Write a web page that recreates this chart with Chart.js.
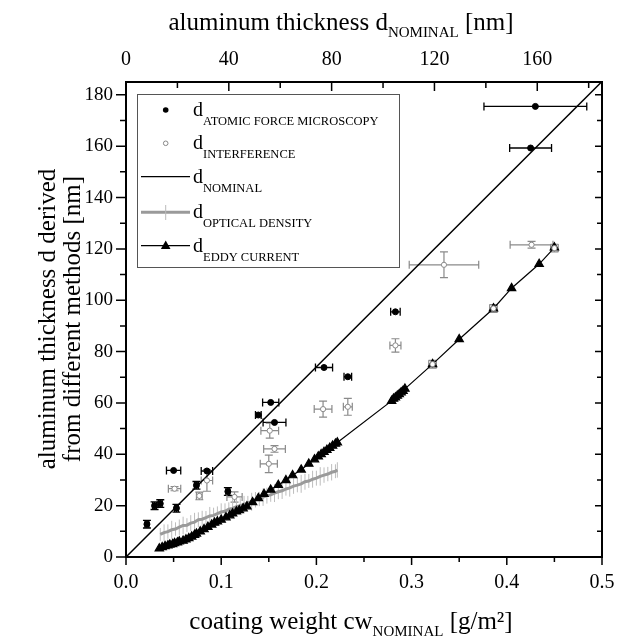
<!DOCTYPE html>
<html>
<head>
<meta charset="utf-8">
<script src="https://cdn.jsdelivr.net/npm/chart.js@4.4.1/dist/chart.umd.min.js"></script>
<style>
  html, body { margin: 0; padding: 0; background: #fff; }
  canvas { display: block; }
</style>
</head>
<body>
<canvas id="chart" width="617" height="642"></canvas>
<script>
// ── data ──────────────────────────────────────────────────────────────
var afmX    = [0.430, 0.425, 0.283, 0.208, 0.233, 0.152, 0.139, 0.156, 0.050, 0.085, 0.074, 0.107, 0.053, 0.030, 0.036, 0.022];
var afmY    = [175.5, 159.3, 95.5, 73.8, 70.2, 60.2, 55.3, 52.4, 33.7, 33.5, 27.9, 25.5, 19.0, 20.0, 20.8, 12.8];
var afmErrX = [0.054, 0.022, 0.005, 0.009, 0.004, 0.0085, 0.003, 0.012, 0.0075, 0.006, 0.002, 0.002, 0.002, 0.002, 0.002, 0.002];
var afmErrY = [0, 0, 0, 0, 0, 0, 0, 0, 0, 0, 1.5, 1.5, 1.5, 1.5, 1.5, 1.5];

var intX    = [0.334, 0.426, 0.283, 0.207, 0.233, 0.151, 0.156, 0.150, 0.051, 0.077, 0.085, 0.114, 0.322, 0.386, 0.450];
var intY    = [113.8, 121.6, 82.4, 57.6, 58.5, 49.2, 42.1, 36.3, 26.6, 23.8, 29.8, 23.4, 75.1, 96.8, 120.3];
var intErrX = [0.0365, 0.0225, 0.0058, 0.0093, 0.0047, 0.0093, 0.0114, 0.009, 0.0065, 0.003, 0.006, 0.008, 0.004, 0.004, 0.004];
var intErrY = [5.0, 1.3, 2.6, 3.1, 3.3, 2.9, 1.3, 3.4, 0.8, 1.5, 4.2, 2.0, 1.5, 1.5, 1.5];

var nominalX = [0, 0.5];
var nominalY = [0, 185.2];

var odX = [0.036, 0.040, 0.044, 0.048, 0.052, 0.056, 0.060, 0.064, 0.068, 0.072, 0.076, 0.080,
           0.084, 0.088, 0.092, 0.096, 0.100, 0.104, 0.108, 0.112, 0.116, 0.120, 0.124, 0.128,
           0.132, 0.136, 0.140, 0.144, 0.148, 0.152, 0.156, 0.160, 0.164, 0.168, 0.172, 0.176,
           0.180, 0.184, 0.188, 0.192, 0.196, 0.200, 0.204, 0.208, 0.212, 0.216, 0.220, 0.222];
var odY = [8.8, 9.5, 9.9, 10.6, 10.9, 11.6, 12.3, 12.4, 13.2, 13.6, 14.5, 14.7,
           15.3, 16.0, 16.2, 16.9, 17.5, 17.8, 18.6, 18.9, 19.6, 20.0, 20.5, 21.2,
           21.5, 22.3, 22.6, 23.3, 23.9, 24.2, 24.9, 25.4, 25.8, 26.5, 26.9, 27.6,
           28.0, 28.5, 29.3, 29.6, 30.3, 30.7, 31.4, 31.9, 32.3, 33.0, 33.4, 33.9];
var odErrY = [2.5, 3.2, 2.8, 3.5, 2.6, 3.0, 3.4, 2.7, 3.1, 3.6, 2.9, 3.3,
              2.6, 3.5, 3.0, 2.8, 3.4, 3.1, 2.7, 3.6, 3.0, 2.9, 3.3, 2.6,
              3.5, 3.0, 2.8, 3.4, 3.1, 2.7, 3.5, 2.9, 3.2, 2.6, 3.4, 3.0,
              2.8, 3.5, 3.1, 2.7, 3.3, 2.9, 3.6, 3.0, 2.8, 3.2, 2.7, 3.0];

var eddyX = [0.035, 0.038, 0.041, 0.044, 0.046, 0.049, 0.051, 0.054, 0.056, 0.060, 0.063, 0.066,
             0.069, 0.072, 0.074, 0.078, 0.082, 0.086, 0.090, 0.093, 0.096, 0.100, 0.105, 0.109,
             0.112, 0.116, 0.119, 0.123, 0.127, 0.133, 0.139, 0.145, 0.152, 0.160, 0.168, 0.175,
             0.184, 0.192, 0.198, 0.202, 0.205, 0.208, 0.211, 0.214, 0.217, 0.220, 0.222,
             0.279, 0.281, 0.283, 0.285, 0.287, 0.289, 0.291, 0.293, 0.322, 0.350, 0.386, 0.405, 0.434, 0.450];
var eddyY = [3.3, 3.8, 4.2, 4.5, 4.8, 5.0, 5.4, 5.6, 6.0, 6.3, 6.8, 7.3,
             7.9, 8.6, 9.1, 9.9, 10.8, 11.7, 12.6, 13.3, 13.8, 14.5, 15.4, 16.2,
             16.9, 17.7, 18.2, 18.9, 19.7, 21.3, 22.9, 24.5, 26.2, 28.0, 29.9, 31.8,
             34.0, 36.3, 38.0, 39.1, 40.0, 40.9, 41.7, 42.5, 43.3, 44.1, 44.6,
             60.8, 61.6, 62.1, 62.8, 63.4, 64.1, 64.7, 65.5, 75.1, 84.8, 96.8, 104.7, 114.1, 120.5];

// tick values
var xTicks      = [0, 0.1, 0.2, 0.3, 0.4, 0.5];
var xMinorTicks = [0.05, 0.15, 0.25, 0.35, 0.45];
var topTicks      = [0, 40, 80, 120, 160];
var topMinorTicks = [20, 60, 100, 140, 180];
var yTicks      = [0, 20, 40, 60, 80, 100, 120, 140, 160, 180];
var yMinorTicks = [10, 30, 50, 70, 90, 110, 130, 150, 170];

var FONT = '"Liberation Serif", "Times New Roman", serif';

function pts( xs, ys ) {
	return xs.map( function ( x, i ) { return { x : x, y : ys[ i ] }; } );
}

// draws text with a subscript part: parts = [[text, isSub], ...]
function drawSubText( ctx, parts, x, y, size, subSize, subDrop, align ) {
	var w = 0;
	parts.forEach( function ( p ) {
		ctx.font = ( p[ 1 ] ? subSize : size ) + 'px ' + FONT;
		w += ctx.measureText( p[ 0 ] ).width;
	} );
	var cx = align === 'center' ? x - w / 2 : x;
	ctx.textBaseline = 'alphabetic';
	ctx.textAlign = 'left';
	parts.forEach( function ( p ) {
		ctx.font = ( p[ 1 ] ? subSize : size ) + 'px ' + FONT;
		ctx.fillText( p[ 0 ], cx, p[ 1 ] ? y + subDrop : y );
		cx += ctx.measureText( p[ 0 ] ).width;
	} );
}

// ── error bars (drawn underneath the markers) ─────────────────────────
var errorBars = {
	id : 'errorBars',
	beforeDatasetsDraw : function ( chart ) {
		var ctx = chart.ctx, xs = chart.scales.x, ys = chart.scales.y, a = chart.chartArea;
		ctx.save();
		ctx.beginPath();
		ctx.rect( a.left, a.top, a.right - a.left, a.bottom - a.top );
		ctx.clip();
		chart.data.datasets.forEach( function ( ds ) {
			if ( ! ds.errX && ! ds.errY ) { return; }
			ctx.strokeStyle = ds.errColor;
			ctx.lineWidth = ds.errWidth;
			ds.data.forEach( function ( p, j ) {
				var px = xs.getPixelForValue( p.x ), py = ys.getPixelForValue( p.y );
				var ex = ds.errX ? ds.errX[ j ] : 0, ey = ds.errY ? ds.errY[ j ] : 0;
				var cap = ds.errCap;
				ctx.beginPath();
				if ( ex ) {
					var l = xs.getPixelForValue( p.x - ex ), r = xs.getPixelForValue( p.x + ex );
					ctx.moveTo( l, py ); ctx.lineTo( r, py );
					if ( cap ) {
						ctx.moveTo( l, py - cap ); ctx.lineTo( l, py + cap );
						ctx.moveTo( r, py - cap ); ctx.lineTo( r, py + cap );
					}
				}
				if ( ey ) {
					var t = ys.getPixelForValue( p.y + ey ), b = ys.getPixelForValue( p.y - ey );
					ctx.moveTo( px, t ); ctx.lineTo( px, b );
					if ( cap ) {
						ctx.moveTo( px - cap, t ); ctx.lineTo( px + cap, t );
						ctx.moveTo( px - cap, b ); ctx.lineTo( px + cap, b );
					}
				}
				ctx.stroke();
			} );
		} );
		ctx.restore();
	},
};

// ── frame, tick marks, titles and legend ──────────────────────────────
var decorations = {
	id : 'decorations',
	afterDraw : function ( chart ) {
		var ctx = chart.ctx, a = chart.chartArea;
		var xs = chart.scales.x, x2 = chart.scales.x2, ys = chart.scales.y;
		ctx.save();

		// frame
		ctx.strokeStyle = '#000';
		ctx.lineWidth = 2;
		ctx.strokeRect( a.left, a.top, a.right - a.left, a.bottom - a.top );

		// tick marks
		ctx.lineWidth = 1.5;
		ctx.beginPath();
		function tickX( scale, vals, y, len ) {
			vals.forEach( function ( v ) {
				var px = scale.getPixelForValue( v );
				ctx.moveTo( px, y ); ctx.lineTo( px, y + len );
			} );
		}
		function tickY( vals, x, len ) {
			vals.forEach( function ( v ) {
				var py = ys.getPixelForValue( v );
				ctx.moveTo( x, py ); ctx.lineTo( x + len, py );
			} );
		}
		tickX( xs, xTicks, a.bottom, 8 );
		tickX( xs, xMinorTicks, a.bottom, 5 );
		tickX( x2, topTicks, a.top, 9 );
		tickX( x2, topMinorTicks, a.top, 6 );
		tickY( yTicks, a.left, -10 );
		tickY( yMinorTicks, a.left, -6 );
		tickY( yTicks, a.right, -7 );
		tickY( yMinorTicks, a.right, -5 );
		ctx.stroke();

		// axis titles
		ctx.fillStyle = '#000';
		drawSubText( ctx, [ [ 'aluminum thickness d', false ], [ 'NOMINAL', true ], [ ' [nm]', false ] ],
			341, 30, 25, 15, 7, 'center' );
		drawSubText( ctx, [ [ 'coating weight cw', false ], [ 'NOMINAL', true ], [ ' [g/m\u00B2]', false ] ],
			351, 629, 25, 15, 7, 'center' );
		ctx.save();
		ctx.translate( 55, 319 );
		ctx.rotate( -Math.PI / 2 );
		drawSubText( ctx, [ [ 'aluminum thickness d derived', false ] ], 0, 0, 25, 15, 7, 'center' );
		drawSubText( ctx, [ [ 'from different methods [nm]', false ] ], 0, 25, 25, 15, 7, 'center' );
		ctx.restore();

		// legend
		ctx.strokeStyle = '#555';
		ctx.lineWidth = 1;
		ctx.strokeRect( 137.5, 94.5, 262, 173 );
		var rows = [
			{ y : 110,   sub : 'ATOMIC FORCE MICROSCOPY' },
			{ y : 143.3, sub : 'INTERFERENCE' },
			{ y : 176.7, sub : 'NOMINAL' },
			{ y : 212.3, sub : 'OPTICAL DENSITY' },
			{ y : 245.7, sub : 'EDDY CURRENT' },
		];
		rows.forEach( function ( r ) {
			drawSubText( ctx, [ [ 'd', false ], [ r.sub, true ] ], 193, r.y + 6, 20, 12.5, 9, 'left' );
		} );
		// samples
		ctx.fillStyle = '#000';
		ctx.beginPath(); ctx.arc( 165.7, 110, 2.8, 0, Math.PI * 2 ); ctx.fill();
		ctx.strokeStyle = '#888'; ctx.fillStyle = '#fff';
		ctx.beginPath(); ctx.arc( 165.7, 143.3, 2.3, 0, Math.PI * 2 ); ctx.fill(); ctx.stroke();
		ctx.strokeStyle = '#000'; ctx.lineWidth = 1.3;
		ctx.beginPath(); ctx.moveTo( 141, 176.7 ); ctx.lineTo( 190, 176.7 ); ctx.stroke();
		ctx.strokeStyle = '#9a9a9a'; ctx.lineWidth = 3;
		ctx.beginPath(); ctx.moveTo( 141, 212.3 ); ctx.lineTo( 190, 212.3 ); ctx.stroke();
		ctx.strokeStyle = '#bbb'; ctx.lineWidth = 1;
		ctx.beginPath(); ctx.moveTo( 165.7, 205 ); ctx.lineTo( 165.7, 220 ); ctx.stroke();
		ctx.strokeStyle = '#000'; ctx.lineWidth = 1.2;
		ctx.beginPath(); ctx.moveTo( 141, 245.7 ); ctx.lineTo( 190, 245.7 ); ctx.stroke();
		ctx.fillStyle = '#000';
		ctx.beginPath();
		ctx.moveTo( 165.7, 240.5 ); ctx.lineTo( 170.5, 249 ); ctx.lineTo( 160.9, 249 ); ctx.closePath();
		ctx.fill();

		ctx.restore();
	},
};

function noSidePadding( s ) {
	s.paddingLeft = 0; s.paddingRight = 0; s.paddingTop = 0; s.paddingBottom = 0;
}

Chart.defaults.font.family = FONT;
Chart.defaults.color = '#000';

new Chart( document.getElementById( 'chart' ), {
	type : 'scatter',
	data : {
		datasets : [
			{
				label           : 'AFM',
				data            : pts( afmX, afmY ),
				errX            : afmErrX,
				errY            : afmErrY,
				errColor        : '#000',
				errWidth        : 1.3,
				errCap          : 4,
				pointStyle      : 'circle',
				pointRadius     : 3,
				backgroundColor : '#000',
				borderColor     : '#000',
				order           : 1,
			},
			{
				label           : 'Interference',
				data            : pts( intX, intY ),
				errX            : intErrX,
				errY            : intErrY,
				errColor        : '#8a8a8a',
				errWidth        : 1.2,
				errCap          : 4,
				pointStyle      : 'circle',
				pointRadius     : 2.6,
				borderWidth     : 1,
				backgroundColor : '#fff',
				borderColor     : '#8a8a8a',
				order           : 2,
			},
			{
				label       : 'Nominal',
				data        : pts( nominalX, nominalY ),
				showLine    : true,
				pointRadius : 0,
				borderColor : '#000',
				borderWidth : 1.5,
				order       : 4,
			},
			{
				label       : 'Optical density',
				data        : pts( odX, odY ),
				errY        : odErrY,
				errColor    : '#bdbdbd',
				errWidth    : 1,
				errCap      : 0,
				showLine    : true,
				pointRadius : 0,
				borderColor : '#9a9a9a',
				borderWidth : 3,
				order       : 5,
			},
			{
				label           : 'Eddy current',
				data            : pts( eddyX, eddyY ),
				showLine        : true,
				pointStyle      : 'triangle',
				pointRadius     : 4.8,
				backgroundColor : '#000',
				borderColor     : '#000',
				borderWidth     : 1.2,
				order           : 3,
			},
		],
	},
	options : {
		responsive : false,
		animation  : false,
		layout     : { padding : { left : 0, right : 15, top : 0, bottom : 0 } },
		plugins    : { legend : { display : false }, tooltip : { enabled : false } },
		scales     : {
			x : {
				type     : 'linear',
				position : 'bottom',
				min      : 0,
				max      : 0.5,
				grid     : { display : false, drawTicks : false },
				border   : { display : false },
				afterBuildTicks : function ( s ) { s.ticks = xTicks.map( function ( v ) { return { value : v }; } ); },
				afterFit : function ( s ) { s.height = 85; noSidePadding( s ); },
				ticks    : {
					autoSkip : false,
					maxRotation : 0,
					padding  : 14,
					font     : { size : 20 },
					callback : function ( v ) { return v.toFixed( 1 ); },
				},
			},
			x2 : {
				type     : 'linear',
				position : 'top',
				min      : 0,
				max      : 0.5 / 0.0027,
				grid     : { display : false, drawTicks : false },
				border   : { display : false },
				afterBuildTicks : function ( s ) { s.ticks = topTicks.map( function ( v ) { return { value : v }; } ); },
				afterFit : function ( s ) { s.height = 82; noSidePadding( s ); },
				ticks    : {
					autoSkip : false,
					maxRotation : 0,
					padding  : 10,
					font     : { size : 20 },
				},
			},
			y : {
				type     : 'linear',
				position : 'left',
				min      : 0,
				max      : 185,
				grid     : { display : false, drawTicks : false },
				border   : { display : false },
				afterBuildTicks : function ( s ) { s.ticks = yTicks.map( function ( v ) { return { value : v }; } ); },
				afterFit : function ( s ) { s.width = 126; noSidePadding( s ); },
				ticks    : {
					autoSkip : false,
					padding  : 13,
					font     : { size : 19 },
				},
			},
		},
	},
	plugins : [ errorBars, decorations ],
} );
</script>
</body>
</html>
